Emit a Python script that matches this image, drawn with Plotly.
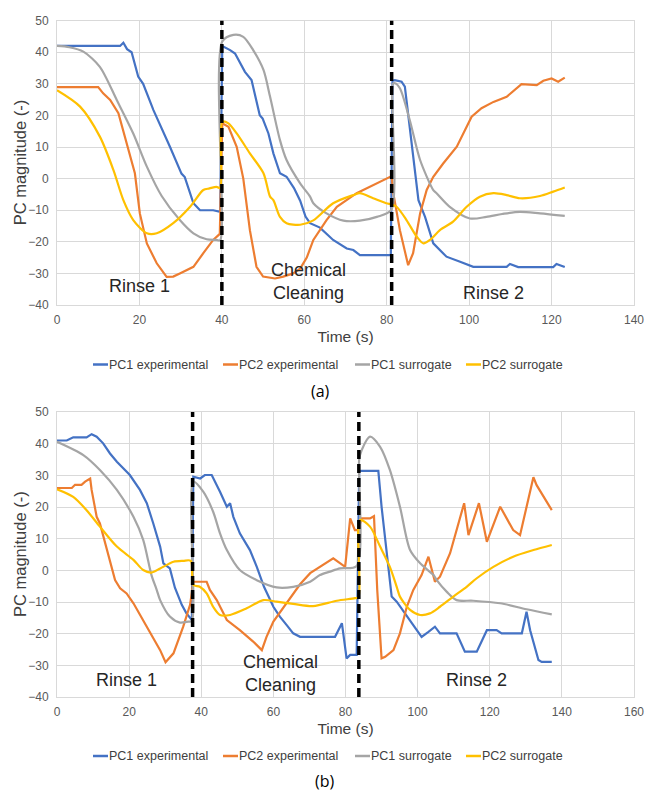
import plotly.graph_objects as go

# ---------------- Data: panel (a) ----------------
a_pc1_exp_x = [0, 15.3, 16.1, 17, 18.1, 19.7, 20.9, 23.4, 27.4, 30.2, 31, 32.3, 33.1, 34.7, 37.9, 39.6,
               40.1, 42, 43.2, 45.6, 47.2, 49.2, 49.9, 51.3, 52.5, 54.1, 55.7, 57.5, 59, 60.3, 61.4, 63.8,
               67, 70.3, 71.9, 73.5, 81, 81.4, 82, 83.6, 84.4, 87.7, 89.3, 91.3, 92.9, 94.5, 97.8, 101,
               109.1, 109.9, 111.9, 120.4, 121.2, 122.8, 123.2]
a_pc1_exp_y = [42, 42, 43, 41, 40, 32.3, 30, 21.7, 10.1, 1.6, 0.5, -4.7, -7.8, -10, -10, -10.5,
               42, 40.7, 39.6, 33.8, 31.2, 20.1, 19, 14.3, 8, 1.7, 0.6, -3, -7, -12, -14.1, -15.5,
               -19.4, -22.1, -22.6, -24.2, -24.2, 31, 31.2, 30.7, 29.1, -6.8, -12.1, -20.5, -22.6, -24.7, -26.3, -27.9,
               -27.9, -27, -28, -28, -27, -28, -28]

a_pc2_exp_x = [0, 10, 11.2, 12.9, 14.9, 16.9, 18.9, 19.7, 20.1, 21.8, 24.2, 26.6, 28.2, 29.8, 33.1, 35.5,
               37.9, 39.5, 40.1, 41.6, 43.6, 45.2, 46.8, 48.4, 50, 52.9, 54.9, 57.3, 59, 60.6, 62.2, 65.4,
               67.9, 72.7, 75.9, 78.4, 80.8, 81.2, 81.6, 83.2, 85.2, 86.4, 88.1, 89.7, 91.3, 93.7, 97,
               100.6, 103, 105.9, 109.1, 112.7, 116.4, 118, 120, 121.6, 123.2]
a_pc2_exp_y = [29, 29, 27, 24.9, 20.7, 11.2, 1.7, -6.8, -11, -20.5, -26.8, -31.1, -31, -30, -27.9, -23.6,
               -19.4, -17.5, 17.5, 16.4, 10.1, 0, -16.3, -27.9, -31, -31.6, -31, -30, -28.5, -25, -19.4, -13.1,
               -8.9, -4.6, -2.6, -1, 0.6, 0.8, -4.6, -16.3, -27.4, -23.6, -11, -3.6, 0.6, 4.8, 10.1,
               19.6, 22.3, 24.3, 25.9, 29.9, 29.6, 31, 31.7, 30.7, 32]

a_pc1_sur_x = [0, 3, 6.4, 10.4, 14.5, 18.5, 21.8, 25.4, 29.8, 33.1, 36.3, 38.7, 39.6, 40.1, 42.8, 45.2,
               47.6, 50.1, 51.7, 54.1, 55.7, 59, 61.4, 62.2, 65.4, 69.5, 73.5, 77.6, 81.1, 81.5, 82,
               83.2, 85.6, 88.1, 91.3, 92.1, 95.3, 100.2, 104.2, 108, 112.3, 117.2, 123.2]
a_pc1_sur_y = [42, 41.6, 40.2, 35.4, 24.9, 14.3, 3.8, -5.5, -13.1, -17.3, -19.2, -19.4, -19.5, 43.4, 45.5, 44.9,
               40.7, 34.4, 25.9, 12.2, 5.9, -1.5, -5.7, -7.8, -11, -13.3, -13.3, -12.1, -9.9, 30, 30.2,
               28.6, 18.5, 5.9, -3.6, -4.6, -8.9, -12.6, -12.1, -11.2, -10.5, -11, -11.8]

a_pc2_sur_x = [0, 5.6, 10.4, 13.7, 16.1, 18.5, 21.8, 24.2, 28.2, 32.3, 35.5, 37, 38.7, 39.6, 40.1, 41.6,
               43.6, 46.8, 50.1, 51.7, 52.5, 54.1, 55.7, 59, 62.2, 67, 71.9, 73.5, 76.7, 79.9, 81.2, 82.4,
               84.8, 87.3, 88.9, 90.5, 92.9, 96.1, 99.4, 102.6, 105.9, 109.1, 112.3, 117.2, 120.4, 123.2]
a_pc2_sur_y = [28, 22.8, 13.3, 2.7, -6.8, -13.1, -17.3, -17.3, -14.1, -8.9, -3.6, -3.1, -2.6, -3, 18, 17.5,
               14.3, 8, 1.7, -5.7, -6.8, -12.1, -14.1, -14.6, -13.2, -7.8, -5.2, -4.6, -6.2, -7.8, -8.2, -8.9,
               -13.1, -18.4, -20.5, -19.4, -16.3, -13.6, -8.9, -5.7, -4.6, -5.2, -6.2, -5.5, -4.1, -2.8]

a_boundaries = [40, 81.2]

# ---------------- Data: panel (b) ----------------
b_pc1_exp_x = [0, 2.7, 4.5, 8.2, 9.6, 11, 12.8, 14.7, 16.6, 18.4, 20.2, 23, 24.9, 26.7, 28.6, 29.5, 31.3,
               32.7, 34.6, 35.9, 37.4, 37.8, 39.7, 41, 42.9, 45.2, 47.1, 48, 48.9, 50.7, 53.5, 55.4, 57.4,
               60, 61.8, 63.7, 65.5, 67.4, 77.1, 79, 80.3, 81.3, 83.1, 83.8, 84.5, 89.1, 90, 92.3, 92.8,
               94.2, 97.9, 101.1, 103, 104.8, 106.2, 110.8, 113.1, 116.4, 119.2, 121.9, 123.3, 128.9,
               130.2, 131.2, 133.5, 134.4, 137.2]
b_pc1_exp_y = [41, 41, 42, 42, 43, 42.2, 40.1, 36.9, 34.3, 32.2, 30.1, 25.4, 21.2, 14.8, 7.5, 2.2, 0.6,
               -5.5, -10.9, -13.6, -15.7, 29.6, 29, 30.1, 30.1, 24.8, 20.1, 21.2, 16.9, 11.7, 6.4, 1.1, -5.2,
               -11.5, -14.6, -17.3, -19.9, -21, -21, -16.7, -27.8, -26.7, -26.7, 31.4, 31.4, 31.4, 20.1, -4.1, -8.3,
               -9.9, -15.7, -21, -19.4, -17.8, -19.9, -19.9, -25.7, -25.7, -18.9, -18.9, -19.9, -19.9,
               -13.1, -18.9, -28.3, -28.9, -28.9]

b_pc2_exp_x = [0, 4.1, 5, 6.8, 7.8, 9.2, 9.6, 11, 11.9, 14.7, 16.1, 17.5, 19.3, 21.2, 24.9, 28.6, 30.1,
               32.3, 35, 36.9, 37.4, 37.8, 41.5, 42.4, 44.3, 47.1, 50.7, 54.4, 56.8, 58.1, 60, 63.7, 67.4,
               70.2, 72.9, 76.6, 79.9, 81.3, 82.6, 83.5, 84.5, 86.8, 87.9, 88.8, 90, 91, 93.3, 95.1, 97,
               98.8, 101.1, 103, 104.8, 106.2, 109, 110.8, 112.9, 114.1, 117, 119.2, 122.9, 126.5,
               128.4, 132.1, 133, 137.2]
b_pc2_exp_y = [26, 26, 27, 27, 28, 29, 25.4, 16.9, 14.8, 3.3, -3.1, -5.7, -7.3, -10.4, -17.8, -25.2, -29,
               -26.2, -17.8, -10.9, -7, -3.6, -3.6, -6.2, -9.4, -15.7, -18.9, -22.5, -25.2, -21, -16.2, -10.4, -4.4,
               -0.9, 1.1, 3.8, 1.1, 16.4, 12.7, 12.7, 16.4, 16.4, 17.1, -6.2, -27.8, -27.3, -25.2, -19.9, -11.5,
               -6.2, -1.5, 4.3, -3.6, -2, 5.4, 12.7, 21.2, 11.1, 21.2, 9, 20.1, 12.7,
               11.1, 29.4, 26.9, 19]

b_pc1_sur_x = [0, 7.3, 11.9, 16.6, 21.2, 23.9, 26.2, 27.6, 28.6, 31.3, 34.1, 36.4, 37.4, 37.8, 40.6, 43.3,
               45.2, 47.1, 50.7, 55.4, 60.9, 65.5, 70.2, 72.9, 75.7, 78.5, 83.1, 83.8, 84.5, 86.8, 89.6,
               92.3, 95.1, 97.9, 100.7, 104.4, 105.3, 108.1, 110.8, 115.4, 122.9, 130.2, 137.2]
b_pc1_sur_y = [40.6, 36.4, 31.7, 25.4, 16.9, 9.6, -1.5, -6, -9.4, -14.6, -16.5, -16.2, -16, 28, 24.8, 18.5,
               11.7, 6.4, 0.1, -3.1, -5.4, -5.2, -3.6, -1.5, -0.4, 0.6, 1.4, 35, 38, 42.2, 39,
               31.7, 20.1, 6.4, 2.2, -1.5, -3.1, -6.8, -9.4, -9.6, -10.4, -12.3, -13.9]

b_pc2_sur_x = [0, 4.5, 8.2, 11.9, 16.6, 21.2, 23.9, 26.2, 28.6, 32.3, 35, 37.1, 37.8, 39.6, 41.5, 43.3,
               45.2, 48, 52.6, 57.2, 60.9, 65.5, 71, 77.6, 82.6, 83.6, 84, 86.8, 89.6, 92.3, 94.2, 95.1,
               97.9, 100.7, 103.4, 106.2, 109.9, 113.6, 116.4, 121, 126.5, 132.1, 137.2]
b_pc2_sur_y = [25.6, 23.2, 19, 13.8, 7.5, 3.3, 0.1, -0.7, 0.6, 2.7, 3, 3, -4.6, -5.2, -7.3, -11.5,
               -14.1, -14.1, -12, -9.4, -9.9, -10.6, -11.3, -9.6, -8.8, -8.5, 15.9, 13.8, 7.5, 1.1, -5.2, -8.3,
               -12.5, -14.1, -13.6, -11.5, -8.3, -5.2, -2.5, 1.1, 4.3, 6.4, 8]

b_boundaries = [37.6, 83.7]

series_names = ["PC1 experimental", "PC2 experimental", "PC1 surrogate", "PC2 surrogate"]
series_colors = ["#4472C4", "#ED7D31", "#A5A5A5", "#FFC000"]
series_shapes = ["linear", "linear", "spline", "spline"]

y_ticks = [-40, -30, -20, -10, 0, 10, 20, 30, 40, 50]

# ---------------- Figure ----------------
W, H = 647, 792
FONT = "Liberation Sans, Arial, sans-serif"
fig = go.Figure()

panel_a = [(a_pc1_exp_x, a_pc1_exp_y), (a_pc2_exp_x, a_pc2_exp_y),
           (a_pc1_sur_x, a_pc1_sur_y), (a_pc2_sur_x, a_pc2_sur_y)]
panel_b = [(b_pc1_exp_x, b_pc1_exp_y), (b_pc2_exp_x, b_pc2_exp_y),
           (b_pc1_sur_x, b_pc1_sur_y), (b_pc2_sur_x, b_pc2_sur_y)]

for (xs, ys), name, col, shp in zip(panel_a, series_names, series_colors, series_shapes):
    fig.add_trace(go.Scatter(x=xs, y=ys, mode="lines", name=name, showlegend=False,
                             line=dict(color=col, width=2.2, shape=shp, smoothing=0.8),
                             xaxis="x", yaxis="y"))
for (xs, ys), name, col, shp in zip(panel_b, series_names, series_colors, series_shapes):
    fig.add_trace(go.Scatter(x=xs, y=ys, mode="lines", name=name, showlegend=False,
                             line=dict(color=col, width=2.2, shape=shp, smoothing=0.8),
                             xaxis="x2", yaxis="y2"))

def py(p):
    """pixel row (from top) -> paper fraction"""
    return 1 - p / H

def pxx(p):
    return p / W

xdom = [pxx(57), pxx(634)]
grid = "#D9D9D9"
tickfont = dict(family=FONT, size=12, color="#595959")
titlefont = dict(family=FONT, size=15.5, color="#404040")
ytitlefont = dict(family=FONT, size=16.5, color="#404040")

axis_common = dict(showgrid=True, gridcolor=grid, gridwidth=1, zeroline=False,
                   showline=True, linecolor=grid, linewidth=1, mirror=True,
                   ticks="", tickfont=tickfont, automargin=False)

dom_a = [py(305), py(20.7)]
dom_b = [py(697), py(412)]

fig.update_layout(
    width=W, height=H,
    margin=dict(l=0, r=0, t=0, b=0, autoexpand=False),
    paper_bgcolor="white", plot_bgcolor="white",
    font=dict(family=FONT, color="#404040"),
    showlegend=False,
    xaxis=dict(domain=xdom, anchor="y", range=[0, 140], tickvals=list(range(0, 141, 20)),
               ticklabelstandoff=4,
               title=dict(text="Time (s)", font=titlefont, standoff=4), **axis_common),
    yaxis=dict(domain=dom_a, anchor="x", range=[-40, 50], tickvals=y_ticks, ticklabelstandoff=5,
               **axis_common),
    xaxis2=dict(domain=xdom, anchor="y2", range=[0, 160], tickvals=list(range(0, 161, 20)),
                ticklabelstandoff=4,
                title=dict(text="Time (s)", font=titlefont, standoff=4), **axis_common),
    yaxis2=dict(domain=dom_b, anchor="x2", range=[-40, 50], tickvals=y_ticks, ticklabelstandoff=5,
                **axis_common),
)

# y-axis titles
for dom in (dom_a, dom_b):
    fig.add_annotation(x=pxx(19.5), y=(dom[0] + dom[1]) / 2, xref="paper", yref="paper",
                       text="PC magnitude (-)", textangle=-90, showarrow=False,
                       xanchor="center", yanchor="middle", font=ytitlefont)

# legends (short line + label, as in the original)
legend_font = dict(family=FONT, size=12.5, color="#404040")
legend_x = [93, 223, 355, 466]
for row in (364.5, 756):
    for name, col, x0 in zip(series_names, series_colors, legend_x):
        fig.add_shape(type="line", xref="paper", yref="paper",
                      x0=pxx(x0), x1=pxx(x0 + 15), y0=py(row), y1=py(row),
                      line=dict(color=col, width=2.5))
        fig.add_annotation(x=pxx(x0 + 15), y=py(row), xref="paper", yref="paper", text=name,
                           showarrow=False, xanchor="left", yanchor="middle", font=legend_font,
                           borderpad=0)

# dashed phase boundaries
for xb in a_boundaries:
    fig.add_shape(type="line", xref="x", yref="y domain", x0=xb, x1=xb, y0=0, y1=1,
                  line=dict(color="black", width=3.5, dash="9px,5px"))
for xb in b_boundaries:
    fig.add_shape(type="line", xref="x2", yref="y2 domain", x0=xb, x1=xb, y0=0, y1=1,
                  line=dict(color="black", width=3.5, dash="9px,5px"))

ann_font = dict(family=FONT, size=18, color="#262626")
labels_a = [(20, -34, "Rinse 1"), (61, -32.5, "Chemical<br>Cleaning"), (106, -36.3, "Rinse 2")]
labels_b = [(19.4, -34.7, "Rinse 1"), (61.9, -32.5, "Chemical<br>Cleaning"), (116.4, -34.7, "Rinse 2")]
for x, y, t in labels_a:
    fig.add_annotation(x=x, y=y, xref="x", yref="y", text=t, showarrow=False, font=ann_font)
for x, y, t in labels_b:
    fig.add_annotation(x=x, y=y, xref="x2", yref="y2", text=t, showarrow=False, font=ann_font)

cap_font = dict(family="Open Sans, Noto Sans, sans-serif", size=16, color="#000000")
fig.add_annotation(x=pxx(320), y=py(391), xref="paper", yref="paper", text="(a)",
                   showarrow=False, xanchor="center", yanchor="middle", font=cap_font)
fig.add_annotation(x=pxx(325), y=py(781), xref="paper", yref="paper", text="(b)",
                   showarrow=False, xanchor="center", yanchor="middle", font=cap_font)

fig.write_html("out.html", config={"displayModeBar": False},
               post_script=["document.body.style.margin='0';document.body.style.overflow='hidden';"])
